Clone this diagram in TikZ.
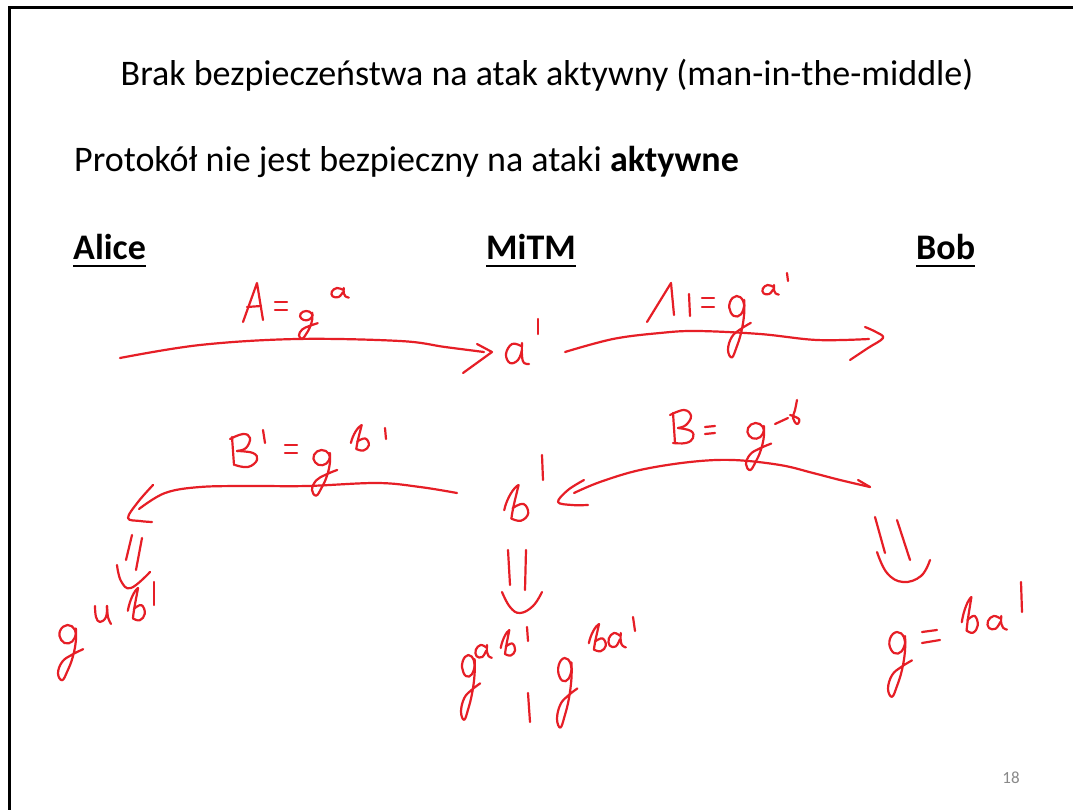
\documentclass[tikz,border=0pt]{standalone}
\usepackage{fontspec}
\setmainfont{Carlito}
\definecolor{inkred}{RGB}{230,30,38}
\definecolor{pagenum}{RGB}{137,137,137}
\tikzset{
  hand/.style={draw=inkred, line width=2.2pt, line cap=round, line join=round},
  slidetext/.style={inner sep=0pt, font=\fontsize{36}{43}\selectfont},
  party/.style={inner sep=0pt, font=\fontsize{36}{43}\selectfont\bfseries},
  % handwritten glyphs, drawn in a local box with y pointing down
  pics/hg/.style={code={
    \draw[hand] plot[smooth cycle, tension=0.8] coordinates {(16,4) (9,0) (2,5) (3,13) (10,16) (16,11)};
    \draw[hand] plot[smooth, tension=0.7] coordinates
      {(17,3) (17,14) (14,28) (9,40) (4,48) (0,42) (4,32) (13,26) (24,21)};}},
  pics/hb/.style={code={
    \draw[hand] (1,24) .. controls (3,13) and (9,2) .. (13,0) .. controls (11,10) and (8,22) .. (7,32);
    \draw[hand] plot[smooth, tension=0.7] coordinates {(7,32) (15,34) (21,27) (17,18) (8,22)};}},
  pics/ha/.style={code={
    \draw[hand] plot[smooth, tension=0.7] coordinates
      {(14,3) (7,0) (1,6) (2,14) (9,15) (14,7)};
    \draw[hand] plot[smooth, tension=0.7] coordinates
      {(15,0) (15,9) (17,14) (21,16)};}},
}
\begin{document}
\begin{tikzpicture}[x=1pt, y=-1pt]
\useasboundingbox (0,0) rectangle (1073,810);
\fill[white] (0,0) rectangle (1073,810);

% slide frame
\coordinate (frameBL) at (9,812);
\coordinate (frameTL) at (9,8);
\coordinate (frameTR) at (1075,8);
\draw[line width=3pt] (frameBL) -- (frameTL) -- (frameTR);

% typed slide text
\node[slidetext, anchor=base] (title) at (547,86)
  {Brak bezpieczeństwa na atak aktywny (man-in-the-middle)};
\node[slidetext, anchor=base west] (claim) at (74,172)
  {Protokół nie jest bezpieczny na ataki \textbf{aktywne}};
\node[party, anchor=base west] (alice) at (73,260) {Alice};
\node[party, anchor=base west] (mitm) at (486,260) {MiTM};
\node[party, anchor=base west] (bob) at (916,260) {Bob};
\foreach \p in {alice, mitm, bob}
  \draw[line width=2pt] ([yshift=-6pt]\p.base west) -- ([yshift=-6pt]\p.base east);
\node[anchor=base, inner sep=0pt, text=pagenum, font=\fontsize{17}{20}\selectfont] (pageno) at (1011,783) {18};

% ---- Alice -> MiTM : A = g^a ----
\coordinate (aliceTx) at (120,358);
\coordinate (mitmRxA) at (484,352);
\draw[hand] plot[smooth, tension=0.6] coordinates
  {(aliceTx) (200,345) (297,339) (400,341) (445,347) (mitmRxA)};
\draw[hand] (477,344) -- (492,352) -- (463,373);
\draw[hand] (243,322) -- (257,283) -- (263,320);
\draw[hand] (247,307) -- (261,306);
\draw[hand] (275,302) -- (287,302) (275,310) -- (287,310);
\pic (gA) at (299,311) [xscale=0.78, yscale=0.58] {hg};
\pic (aA) at (331,288) [xscale=0.85, yscale=0.6] {ha};
% a' received by MiTM
\draw[hand] plot[smooth, tension=0.7] coordinates {(521,346) (512,344) (506,354) (510,363) (518,360) (522,350)};
\draw[hand] plot[smooth, tension=0.7] coordinates {(522,343) (522,356) (524,363) (529,364)};
\draw[hand] (538,319) -- (538,334);

% ---- MiTM -> Bob : A' = g^{a'} ----
\coordinate (mitmTxA) at (565,352);
\coordinate (bobRx) at (869,339);
\draw[hand] plot[smooth, tension=0.6] coordinates
  {(mitmTxA) (613,339) (660,333) (697,331) (760,334) (817,340) (bobRx)};
\draw[hand] plot[smooth, tension=0.6] coordinates {(865,327) (876,332) (883,338) (868,348) (850,360)};
\draw[hand] (647,322) -- (671,283) -- (674,315);
\draw[hand] (689,294) -- (690,316);
\draw[hand] (702,298) -- (714,298) (702,307) -- (714,307);
\pic (gA2) at (728,296) [xscale=0.95, yscale=1.28] {hg};
\pic (aA2) at (762,285) [xscale=0.8, yscale=0.6] {ha};
\draw[hand] (787,273) -- (788,281);

% ---- MiTM -> Alice : B' = g^{b'} ----
\coordinate (mitmTxB) at (457,493);
\coordinate (aliceRx) at (139,509);
\draw[hand] plot[smooth, tension=0.6] coordinates
  {(mitmTxB) (420,487) (377,483) (307,486) (250,486) (200,487) (165,493) (aliceRx)};
\draw[hand] plot[smooth, tension=0.6] coordinates {(153,485) (138,502) (128,518) (140,521) (152,522)};
\draw[hand] (232,437) -- (234,465);
\draw[hand] plot[smooth, tension=0.7] coordinates {(230,439) (243,434) (250,438) (246,448) (237,451)};
\draw[hand] plot[smooth, tension=0.7] coordinates {(237,451) (253,453) (257,460) (248,467) (235,465)};
\draw[hand] (263,430) -- (265,443);
\draw[hand] (285,445) -- (297,445) (285,453) -- (297,453);
\pic (gB1) at (312,450) [xscale=1.05, yscale=0.95] {hg};
\pic (bB1) at (350,425) [xscale=0.9, yscale=0.75] {hb};
\draw[hand] (385,428) -- (386,439);

% ---- Bob -> MiTM : B = g^b ----
\coordinate (bobTx) at (870,487);
\coordinate (mitmRxB) at (574,493);
\draw[hand] plot[smooth, tension=0.6] coordinates
  {(bobTx) (840,480) (813,473) (780,465) (733,460) (690,462) (640,470) (600,482) (mitmRxB)};
\draw[hand] (858,480) -- (bobTx);
\draw[hand] plot[smooth, tension=0.6] coordinates {(584,480) (568,490) (558,502) (572,505) (588,505)};
\draw[hand] (673,413) -- (675,443);
\draw[hand] plot[smooth, tension=0.7] coordinates {(670,415) (684,410) (691,416) (686,425) (678,428)};
\draw[hand] plot[smooth, tension=0.7] coordinates {(678,428) (691,431) (693,438) (686,443) (673,443)};
\draw[hand] (705,427) -- (715,426) (705,434) -- (715,433);
\pic (gB2) at (746,423) [xscale=1.05, yscale=0.98] {hg};
\draw[hand] (775,424) -- (788,418);
\draw[hand] plot[smooth, tension=0.7] coordinates {(797,400) (795,410) (793,418) (797,424) (799,419) (790,415)};
% b' held by MiTM
\pic (bMid) at (503,485) [xscale=1.2, yscale=1.05] {hb};
\draw[hand] (542,455) -- (543,480);

% ---- Alice computes g^{ab'} ----
\draw[hand] (132,535) -- (126,560) (142,538) -- (136,570);
\draw[hand] plot[smooth, tension=0.7] coordinates {(117,565) (121,581) (131,588) (150,572)};
\pic (gL) at (58,625) [xscale=1.05, yscale=1.15] {hg};
\draw[hand] plot[smooth, tension=0.7] coordinates {(95,606) (96,617) (100,622) (106,617) (107,606)};
\draw[hand] plot[smooth, tension=0.7] coordinates {(107,606) (108,617) (111,624)};
\pic (bL) at (127,588) [xscale=0.85, yscale=0.95] {hb};
\draw[hand] (154,582) -- (154,605);

% ---- MiTM computes g^{ab'} | g^{ba'} ----
\draw[hand] (508,550) -- (510,585) (526,550) -- (525,590);
\draw[hand] plot[smooth, tension=0.7] coordinates {(502,592) (510,607) (520,613) (533,606) (542,592)};
\pic (gM1) at (461,655) [xscale=0.8, yscale=1.35] {hg};
\pic (aM1) at (475,645) [xscale=0.8, yscale=0.8] {ha};
\pic (bM1) at (500,630) [xscale=0.72, yscale=0.75] {hb};
\draw[hand] (527,627) -- (528,641);
\draw[hand] (528,693) -- (530,722);
\pic (gM2) at (557,658) [xscale=0.85, yscale=1.45] {hg};
\pic (bM2) at (588,624) [xscale=0.85, yscale=0.8] {hb};
\pic (aM2) at (608,633) [xscale=0.85, yscale=0.9] {ha};
\draw[hand] (633,617) -- (635,631);

% ---- Bob computes g^{ba'} ----
\draw[hand] (875,517) -- (885,553) (897,520) -- (910,560);
\draw[hand] plot[smooth, tension=0.7] coordinates {(877,552) (887,573) (903,582) (921,576) (930,560)};
\pic (gR) at (888,632) [xscale=1.0, yscale=1.35] {hg};
\draw[hand] (922,632) -- (937,630) (922,643) -- (940,640);
\pic (bR) at (961,597) [xscale=0.8, yscale=1.05] {hb};
\pic (aR) at (987,616) [xscale=0.95, yscale=0.85] {ha};
\draw[hand] (1021,582) -- (1022,612);
\end{tikzpicture}
\end{document}
